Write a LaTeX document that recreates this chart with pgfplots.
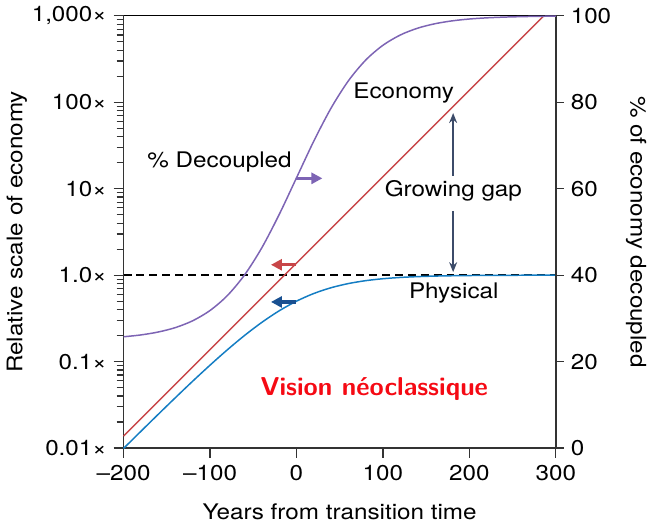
\documentclass[border=0pt]{standalone}
\usepackage{fontspec}
\setmainfont{TeX Gyre Heros}[FakeStretch=1.13]
\usepackage{pgfplots}
\pgfplotsset{compat=1.18}
\usetikzlibrary{arrows.meta}

\definecolor{econred}{RGB}{200,70,72}
\definecolor{physblue}{RGB}{20,125,195}
\definecolor{decpurple}{RGB}{125,100,180}
\definecolor{arrowblue}{RGB}{25,80,145}
\definecolor{gapgray}{RGB}{60,75,105}
\definecolor{visionred}{RGB}{245,10,20}

\begin{document}
\begin{tikzpicture}[font=\fontsize{10.8}{13}\selectfont]
\begin{axis}[
    scale only axis,
    width=217.5pt, height=217.5pt,
    xmin=-200, xmax=300,
    ymode=log, ymin=0.01, ymax=1000,
    axis y line*=left, axis x line*=bottom,
    axis line style={-, black!80, line width=0.8pt},
    tick align=outside,
    tick style={black!80, line width=0.6pt},
    major tick length=5pt, minor tick length=3.5pt,
    xtick={-200,-100,0,100,200,300},
    xticklabels={–200,–100,0,100,200,300},
    ytick={0.01,0.1,1,10,100,1000},
    yticklabels={0.01×,0.1×,1.0×,10×,100×,{1,000×}},
    minor ytick={0.02,0.03,0.04,0.05,0.06,0.07,0.08,0.09,
                 0.2,0.3,0.4,0.5,0.6,0.7,0.8,0.9,
                 2,3,4,5,6,7,8,9,
                 20,30,40,50,60,70,80,90,
                 200,300,400,500,600,700,800,900},
    xlabel={Years from transition time},
    ylabel={Relative scale of economy},
    xlabel style={at={(axis description cs:0.5,-0.147)}, anchor=center},
    ylabel style={at={(axis description cs:-0.247,0.5)}, anchor=center},
    clip=false,
]
% reference level 1.0x
\addplot[black, line width=0.7pt, dash pattern=on 4pt off 2.5pt] coordinates {(-200,1) (300,1)};
% economy
\addplot[econred, line width=0.75pt] coordinates {(-200,0.01374) (286.2,1000)};
% physical
\addplot[physblue, line width=0.75pt, smooth] coordinates {
    (-200,0.0099) (-180,0.0156) (-160,0.0245) (-140,0.0383) (-120,0.0594)
    (-100,0.0909) (-80,0.1368) (-60,0.2008) (-40,0.2847) (-20,0.3869)
    (0,0.5) (20,0.6131) (40,0.7153) (60,0.7992) (80,0.8632)
    (100,0.9091) (120,0.9406) (140,0.9617) (160,0.9755) (180,0.9844)
    (200,0.9901) (220,0.9937) (240,0.9960) (260,0.9975) (280,0.9984) (300,0.9990)
};
\draw[black, line width=0.5pt] (rel axis cs:0,1) -- (rel axis cs:1,1);

% labels
\node at (rel axis cs:0.648,0.821) {Economy};
\node at (rel axis cs:0.222,0.662) {\% Decoupled};
\node at (rel axis cs:0.763,0.596) {Growing gap};
\node at (rel axis cs:0.764,0.359) {Physical};
\node[text=visionred] at (rel axis cs:0.580,0.136) {\fontsize{13}{15}\sffamily\bfseries\addfontfeature{FakeStretch=1.12}Vision néoclassique};

% small arrows
\draw[decpurple, line width=1.6pt, -{Triangle[length=5.5pt, width=5.5pt]}] (rel axis cs:0.398,0.624) -- (rel axis cs:0.460,0.624);
\draw[econred, line width=1.6pt, -{Triangle[length=5.5pt, width=5.5pt]}] (rel axis cs:0.398,0.424) -- (rel axis cs:0.341,0.424);
\draw[arrowblue, line width=1.6pt, -{Triangle[length=5.5pt, width=5.5pt]}] (rel axis cs:0.398,0.338) -- (rel axis cs:0.341,0.338);

% growing gap arrow
\draw[gapgray, line width=0.8pt, -{Stealth[length=5pt, width=4pt]}] (rel axis cs:0.7625,0.630) -- (rel axis cs:0.7625,0.775);
\draw[gapgray, line width=0.8pt, -{Stealth[length=5pt, width=4pt]}] (rel axis cs:0.7625,0.549) -- (rel axis cs:0.7625,0.407);
\end{axis}

\begin{axis}[
    scale only axis,
    width=217.5pt, height=217.5pt,
    xmin=-200, xmax=300,
    ymin=0, ymax=100,
    axis y line*=right, axis x line=none,
    axis line style={-, black!80, line width=0.8pt},
    tick align=outside,
    tick style={black!80, line width=0.6pt},
    major tick length=4pt,
    ytick={0,20,40,60,80,100},
    yticklabels={0,20,40,60,80,100},
    ylabel={\% of economy decoupled},
    ylabel style={at={(axis description cs:1.186,0.5)}, anchor=center, rotate=180},
]
% percent decoupled
\addplot[decpurple, line width=0.75pt, smooth] coordinates {
    (-200,25.74) (-180,26.17) (-160,26.84) (-140,27.87) (-120,29.45)
    (-100,31.82) (-80,35.26) (-60,40.06) (-40,46.36) (-20,54.02)
    (0,62.50) (20,70.99) (40,78.64) (60,84.94) (80,89.74)
    (100,93.18) (120,95.55) (140,97.13) (160,98.16) (180,98.83)
    (200,99.26) (220,99.53) (240,99.70) (260,99.81) (280,99.88) (300,99.93)
};
\end{axis}
\end{tikzpicture}
\end{document}
